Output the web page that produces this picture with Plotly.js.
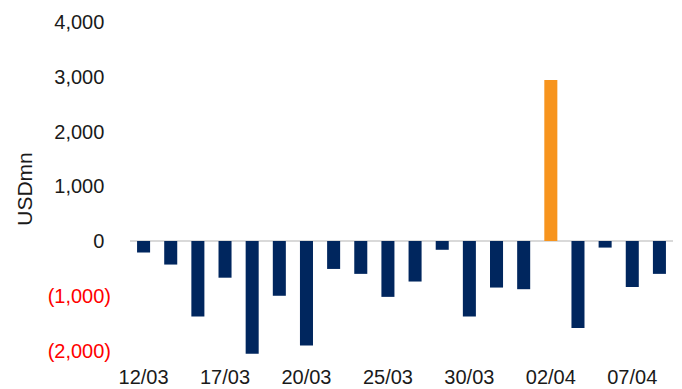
<!DOCTYPE html>
<html>
<head>
<meta charset="utf-8">
<script src="https://cdn.plot.ly/plotly-3.0.1.min.js"></script>
<style>html,body{margin:0;padding:0;background:#fff;}#chart{width:682px;height:389px;}</style>
</head>
<body>
<div id="chart"></div>
<script>
const dates = ["12/03","13/03","16/03","17/03","18/03","19/03","20/03","23/03","24/03","25/03",
               "26/03","27/03","30/03","31/03","01/04","02/04","03/04","06/04","07/04","08/04"];
const flows = [-210,-430,-1380,-670,-2060,-1000,-1910,-510,-600,-1020,
               -740,-160,-1380,-850,-880,2940,-1590,-120,-840,-600];
const xTickLabels = ["12/03","17/03","20/03","25/03","30/03","02/04","07/04"];
const yTickVals = [4000,3000,2000,1000,0,-1000,-2000];
const yTickText = ["4,000","3,000","2,000","1,000","0","(1,000)","(2,000)"];

const NAVY = "#00265E", ORANGE = "#F7941D";
const barColors = flows.map(v => v > 0 ? ORANGE : NAVY);
const yText = yTickText.map(t => t.startsWith("(")
  ? "<span style='color:#FF0000'>" + t + "</span>"
  : t + "<span style='color:rgba(0,0,0,0)'>)</span>");

const trace = {
  type: "bar",
  x: dates,
  y: flows,
  marker: {color: barColors, line: {width: 0}},
  hoverinfo: "x+y"
};

const layout = {
  width: 682, height: 389,
  margin: {l: 130, r: 9, t: 22, b: 33},
  paper_bgcolor: "#fff", plot_bgcolor: "#fff",
  showlegend: false,
  bargap: 0.52,
  font: {family: "Liberation Sans, Arial, sans-serif", size: 20, color: "#1a1a1a"},
  xaxis: {
    type: "category",
    tickvals: xTickLabels,
    ticktext: xTickLabels,
    showgrid: false, zeroline: false, showline: false, ticks: "",
    ticklabelstandoff: 7,
    tickfont: {size: 20, color: "#1a1a1a"},
    automargin: false
  },
  yaxis: {
    range: [-2100, 4000],
    tickvals: yTickVals,
    ticktext: yText,
    showgrid: false, showline: false, ticks: "",
    zeroline: true, zerolinecolor: "#D9D9D9", zerolinewidth: 2,
    ticklabelstandoff: 18,
    tickfont: {size: 20, color: "#1a1a1a"},
    title: {text: "USDmn", font: {size: 21, color: "#1a1a1a"}, standoff: 9},
    automargin: false
  }
};

Plotly.newPlot("chart", [trace], layout, {displayModeBar: false, staticPlot: true});
</script>
</body>
</html>
